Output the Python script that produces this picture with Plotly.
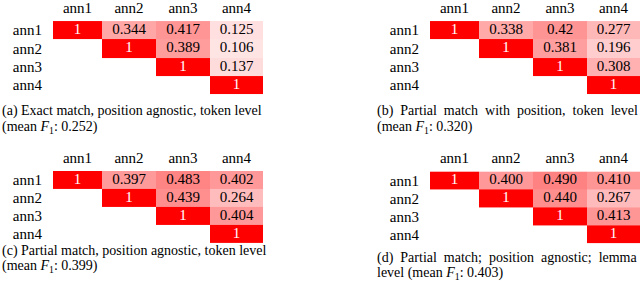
import plotly.graph_objects as go

# ---------------- data ----------------
ANN = ["ann1", "ann2", "ann3", "ann4"]

A_VALS = [[1, 0.344, 0.417, 0.125],
          [None, 1, 0.389, 0.106],
          [None, None, 1, 0.137],
          [None, None, None, 1]]
A_TEXT = [["1", "0.344", "0.417", "0.125"],
          ["", "1", "0.389", "0.106"],
          ["", "", "1", "0.137"],
          ["", "", "", "1"]]

B_VALS = [[1, 0.338, 0.42, 0.277],
          [None, 1, 0.381, 0.196],
          [None, None, 1, 0.308],
          [None, None, None, 1]]
B_TEXT = [["1", "0.338", "0.42", "0.277"],
          ["", "1", "0.381", "0.196"],
          ["", "", "1", "0.308"],
          ["", "", "", "1"]]

C_VALS = [[1, 0.397, 0.483, 0.402],
          [None, 1, 0.439, 0.264],
          [None, None, 1, 0.404],
          [None, None, None, 1]]
C_TEXT = [["1", "0.397", "0.483", "0.402"],
          ["", "1", "0.439", "0.264"],
          ["", "", "1", "0.404"],
          ["", "", "", "1"]]

D_VALS = [[1, 0.400, 0.490, 0.410],
          [None, 1, 0.440, 0.267],
          [None, None, 1, 0.413],
          [None, None, None, 1]]
D_TEXT = [["1", "0.400", "0.490", "0.410"],
          ["", "1", "0.440", "0.267"],
          ["", "", "1", "0.413"],
          ["", "", "", "1"]]

CAP_LINE1 = ["(a) Exact match, position agnostic, token level",
             "(b) Partial match with position, token level",
             "(c) Partial match, position agnostic, token level",
             "(d) Partial match; position agnostic; lemma"]
CAP_LINE2 = ["(mean <i>F</i><sub>1</sub>: 0.252)",
             "(mean <i>F</i><sub>1</sub>: 0.320)",
             "(mean <i>F</i><sub>1</sub>: 0.399)",
             "level (mean <i>F</i><sub>1</sub>: 0.403)"]
CAP_JUSTIFY = [False, True, False, True]

# ---------------- layout constants ----------------
W, H = 640, 282
FONT = "Liberation Serif"
TABLE_FS = 15
CAP_FS = 14
COL_W = [49, 54, 54, 53]
# per panel: cell block left x, top y, bottom y (px); caption x, line1 y, line2 y (px)
PANELS = [
    dict(vals=A_VALS, text=A_TEXT, x0=53, y0=17.3, y1=91.7, cx=0, cy1=108.5, cy2=125),
    dict(vals=B_VALS, text=B_TEXT, x0=430, y0=17.3, y1=91.7, cx=375, cy1=108.5, cy2=125),
    dict(vals=C_VALS, text=C_TEXT, x0=53, y0=169.3, y1=242.7, cx=0, cy1=250.5, cy2=266),
    dict(vals=D_VALS, text=D_TEXT, x0=430, y0=169.8, y1=242.7, cx=375, cy1=257.5, cy2=273.5),
]

edges = [0]
for w in COL_W:
    edges.append(edges[-1] + w)
centers = [(edges[i] + edges[i + 1]) / 2 for i in range(len(COL_W))]
total_w = edges[-1]

fig = go.Figure()
annotations = []

for i, p in enumerate(PANELS):
    n = i + 1
    xa = "x" if n == 1 else f"x{n}"
    ya = "y" if n == 1 else f"y{n}"
    fig.add_trace(go.Heatmap(
        z=p["vals"], x=edges, y=list(range(len(ANN) + 1)),
        colorscale=[[0, "rgb(255,255,255)"], [1, "rgb(255,0,0)"]],
        zmin=0, zmax=1, showscale=False, hoverinfo="skip",
        xaxis=xa, yaxis=ya,
    ))
    tx, ty, tt, tc = [], [], [], []
    for r, row in enumerate(p["vals"]):
        for c, v in enumerate(row):
            if v is None:
                continue
            tx.append(centers[c])
            ty.append(r + 0.5)
            tt.append(p["text"][r][c])
            tc.append("white" if v >= 0.999 else "black")
    fig.add_trace(go.Scatter(
        x=tx, y=ty, text=tt, mode="text",
        textfont=dict(family=FONT, size=TABLE_FS, color=tc),
        hoverinfo="skip", showlegend=False, xaxis=xa, yaxis=ya,
    ))
    xkey = "xaxis" if n == 1 else f"xaxis{n}"
    ykey = "yaxis" if n == 1 else f"yaxis{n}"
    fig.update_layout(**{
        xkey: dict(domain=[p["x0"] / W, (p["x0"] + total_w) / W], range=[0, total_w],
                   side="top", tickvals=centers, ticktext=ANN, anchor=ya,
                   showgrid=False, zeroline=False, showline=False,
                   ticks="outside", ticklen=1, tickcolor="rgba(0,0,0,0)",
                   tickfont=dict(family=FONT, size=TABLE_FS, color="black"),
                   fixedrange=True),
        ykey: dict(domain=[1 - p["y1"] / H, 1 - p["y0"] / H], range=[len(ANN), 0],
                   tickvals=[k + 0.5 for k in range(len(ANN))], ticktext=ANN, anchor=xa,
                   showgrid=False, zeroline=False, showline=False,
                   ticks="outside", ticklen=7, tickcolor="rgba(0,0,0,0)",
                   tickfont=dict(family=FONT, size=TABLE_FS, color="black"),
                   fixedrange=True),
    })
    sep = "\u00a0\u00a0" if CAP_JUSTIFY[i] else " "
    line1 = sep.join(CAP_LINE1[i].split(" "))
    for txt, cy in ((line1, p["cy1"]), (CAP_LINE2[i], p["cy2"])):
        annotations.append(dict(
            text=txt, x=p["cx"] / W, y=1 - cy / H, xref="paper", yref="paper",
            xanchor="left", yanchor="middle", showarrow=False, align="left",
            font=dict(family=FONT, size=CAP_FS, color="black"),
        ))

fig.update_layout(
    width=W, height=H, margin=dict(l=0, r=0, t=0, b=0),
    paper_bgcolor="white", plot_bgcolor="white",
    showlegend=False, annotations=annotations,
)

fig.write_html("out.html", config={"displayModeBar": False},
               post_script="document.body.style.margin='0';document.body.style.overflow='hidden';")
